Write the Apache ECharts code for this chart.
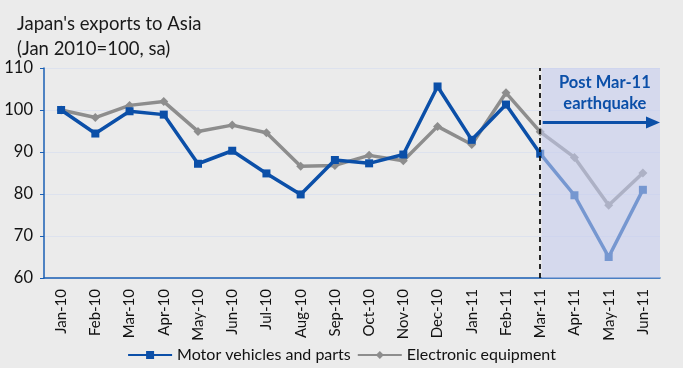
<!DOCTYPE html>
<html>
<head>
<meta charset="utf-8">
<script src="https://cdn.jsdelivr.net/npm/echarts@6/dist/echarts.min.js"></script>
<style>
  html, body { margin: 0; padding: 0; background: #ebebeb; }
  #chart { width: 683px; height: 368px; }
</style>
</head>
<body>
<div id="chart"></div>
<script>
// Monthly index of Japanese exports to Asia (Jan 2010 = 100, seasonally adjusted)
const months = ['Jan-10', 'Feb-10', 'Mar-10', 'Apr-10', 'May-10', 'Jun-10', 'Jul-10', 'Aug-10', 'Sep-10',
  'Oct-10', 'Nov-10', 'Dec-10', 'Jan-11', 'Feb-11', 'Mar-11', 'Apr-11', 'May-11', 'Jun-11'];
const motorVehicles = [100, 94.4, 99.7, 98.9, 87.2, 90.3, 84.9, 79.9, 88.1,
  87.3, 89.4, 105.6, 92.9, 101.3, 89.6, 79.7, 65.0, 81.0];
const electronics = [100, 98.2, 101.1, 102.0, 94.9, 96.4, 94.6, 86.6, 86.8,
  89.2, 87.9, 96.1, 91.8, 104.1, 94.8, 88.7, 77.3, 85.0];
const yTicks = [60, 70, 80, 90, 100, 110];
const quakeMonth = 'Mar-11';
const quakeArrowLevel = 97;

const FONT = 'Lato, "Open Sans", sans-serif';
const AXIS_BLUE = '#1a5fb4';

const chart = echarts.init(document.getElementById('chart'));

chart.setOption({
  backgroundColor: '#ebebeb',
  animation: false,
  textStyle: { fontFamily: FONT },
  title: {
    text: "Japan's exports to Asia\n(Jan 2010=100, sa)",
    left: 12, top: 7,
    textStyle: { fontFamily: FONT, fontSize: 18.5, fontWeight: 'normal', color: '#1a1a1a', lineHeight: 25 }
  },
  grid: { left: 44, right: 23, top: 68, bottom: 90 },
  legend: {
    bottom: 0, left: 'center',
    itemWidth: 44, itemHeight: 10, itemGap: 6,
    textStyle: { fontFamily: FONT, fontSize: 16, color: '#111' },
    data: ['Motor vehicles and parts', 'Electronic equipment']
  },
  xAxis: {
    type: 'category',
    data: months,
    boundaryGap: true,
    axisLine: { lineStyle: { color: AXIS_BLUE, width: 1.5 } },
    axisTick: { interval: 0, lineStyle: { color: AXIS_BLUE }, length: 4 },
    axisLabel: { interval: 0, rotate: 90, fontSize: 15, color: '#111', fontFamily: FONT, margin: 11 }
  },
  yAxis: {
    type: 'value',
    min: yTicks[0], max: yTicks[yTicks.length - 1], interval: 10,
    axisLine: { show: true, lineStyle: { color: AXIS_BLUE, width: 1.5 } },
    axisTick: { show: true, inside: false, length: 4, lineStyle: { color: AXIS_BLUE } },
    axisLabel: { fontSize: 16.5, color: '#111', fontFamily: FONT, margin: 11 },
    splitLine: { lineStyle: { color: '#dde2ee', width: 1 } }
  },
  series: [
    {
      name: 'Motor vehicles and parts',
      type: 'line',
      data: motorVehicles,
      symbol: 'rect', symbolSize: 8,
      color: '#0b4fa8',
      lineStyle: { width: 3.5, color: '#0b4fa8' },
      itemStyle: { color: '#0b4fa8' },
      z: 3,
      markLine: {
        silent: true,
        symbol: 'none',
        label: { show: false },
        lineStyle: { color: '#111', type: [5, 4], width: 1.8 },
        data: [{ xAxis: quakeMonth }]
      }
    },
    {
      name: 'Electronic equipment',
      type: 'line',
      data: electronics,
      symbol: 'diamond', symbolSize: 9,
      color: '#8d8d8d',
      lineStyle: { width: 3.5, color: '#8d8d8d' },
      itemStyle: { color: '#8d8d8d' },
      z: 2
    }
  ]
});

// Post-earthquake shaded band, arrow and caption, placed from axis coordinates
const gridModel = chart.getModel().getComponent('grid', 0);
const rect = gridModel.coordinateSystem.getRect();
const xq = chart.convertToPixel({ xAxisIndex: 0 }, quakeMonth) + 1.5;
const yArrow = chart.convertToPixel({ yAxisIndex: 0 }, quakeArrowLevel);
const xEnd = rect.x + rect.width;

chart.setOption({
  graphic: [
    {
      type: 'rect', z: 50, silent: true,
      shape: { x: xq, y: rect.y, width: xEnd - xq, height: rect.height },
      style: { fill: 'rgba(196, 203, 238, 0.58)' }
    },
    {
      type: 'line', z: 60, silent: true,
      shape: { x1: xq + 1, y1: yArrow, x2: xEnd - 12, y2: yArrow },
      style: { stroke: '#0b4fa8', lineWidth: 3 }
    },
    {
      type: 'polygon', z: 60, silent: true,
      shape: { points: [[xEnd - 14, yArrow - 6], [xEnd, yArrow], [xEnd - 14, yArrow + 6]] },
      style: { fill: '#0b4fa8' }
    },
    {
      type: 'text', z: 60, silent: true,
      x: (xq + xEnd) / 2 + 4, y: rect.y + 4,
      style: {
        text: 'Post Mar-11\nearthquake',
        fill: '#0b4fa8',
        font: 'bold 16.5px ' + FONT,
        lineHeight: 21,
        align: 'center',
        verticalAlign: 'top'
      }
    }
  ]
});
</script>
</body>
</html>
